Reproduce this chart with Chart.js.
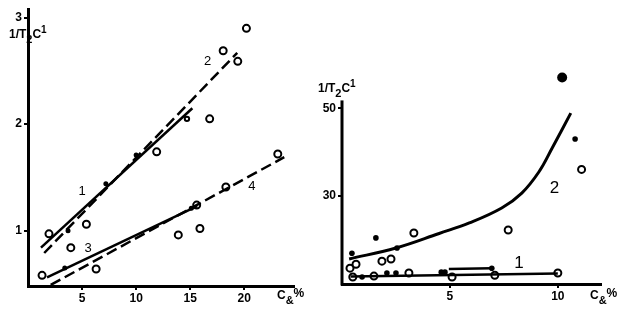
<!DOCTYPE html>
<html>
<head>
<meta charset="utf-8">
<script src="https://cdn.jsdelivr.net/npm/chart.js@4.4.1/dist/chart.umd.min.js"></script>
<style>
  html, body { margin: 0; padding: 0; background: #fff; }
  #wrap { position: relative; width: 627px; height: 319px; }
  #cL { position: absolute; left: 0; top: 0; }
  #cR { position: absolute; left: 310px; top: 0; }
</style>
</head>
<body>
<div id="wrap">
  <canvas id="cL" width="310" height="319"></canvas>
  <canvas id="cR" width="317" height="319"></canvas>
</div>
<script>
// ---- left panel data ----
const xTicksL = [5, 10, 15, 20]
const yTicksL = [1, 2, 3]
const leftOpenX = [20.2, 18.05, 19.4, 16.8, 11.9, 23.1, 18.3, 15.6, 5.4, 1.94, 3.96, 13.9, 15.9, 6.3, 1.3]
const leftOpenY = [2.90, 2.69, 2.59, 2.05, 1.74, 1.72, 1.41, 1.24, 1.06, 0.97, 0.84, 0.96, 1.02, 0.64, 0.58]
const leftSmallX = [14.7]
const leftSmallY = [2.05]
const leftDotX = [7.2, 10.0, 3.7, 15.1, 3.4]
const leftDotY = [1.44, 1.71, 1.0, 1.21, 0.65]
const line1X = [1.2, 15.2], line1Y = [0.84, 2.15]
const line2X = [1.5, 19.35], line2Y = [0.79, 2.67]
const line3X = [1.76, 15.65], line3Y = [0.56, 1.23]
const line4X = [2.1, 23.7], line4Y = [0.49, 1.69]
const leftLabels = ["1", "2", "3", "4"]
const leftLabelX = [5.0, 16.6, 5.55, 20.7]
const leftLabelY = [1.37, 2.59, 0.83, 1.42]

// ---- right panel data ----
const xTicksR = [5, 10]
const yTicksR = [30, 50]
const rightAxisTop = 51.8   // y axis line stops here, one point sits above it
const rightOpenX = [11.1, 7.7, 3.33, 1.85, 2.27, 0.37, 0.65, 0.5, 1.48, 3.1, 5.1, 7.08, 10.0]
const rightOpenY = [36.1, 22.3, 21.6, 15.2, 15.7, 13.6, 14.5, 11.6, 11.8, 12.5, 11.6, 12.0, 12.5]
const rightDotX = [10.2, 10.8, 1.57, 0.46, 2.55, 0.93, 2.08, 2.5, 4.6, 4.77, 6.94]
const rightDotY = [57, 43.0, 20.5, 17.0, 18.2, 11.6, 12.5, 12.5, 12.7, 12.7, 13.6]
const curve2X = [0.33, 2.5, 4.5, 5.9, 7.4, 8.33, 9.12, 9.72, 10.6]
const curve2Y = [15.7, 18.2, 21.5, 23.9, 27.3, 30.7, 35.5, 40.8, 48.9]
const flat1X = [0.4, 10.0], flat1Y = [11.7, 12.4]
const flat1bX = [4.95, 6.94], flat1bY = [13.4, 13.6]
const rightLabels = ["1", "2"]
const rightLabelX = [8.2, 9.85]
const rightLabelY = [14.8, 31.8]

const pts = (xs, ys) => xs.map((x, i) => ({ x: x, y: ys[i] }))
const FONT = '"Liberation Sans", Arial, sans-serif'

function lineSet(xs, ys, dashed) {
  return {
    data: pts(xs, ys), showLine: true, borderColor: '#000', borderWidth: 2.5,
    borderDash: dashed ? [11, 5] : [], pointRadius: 0, tension: 0
  }
}
function openSet(xs, ys, r) {
  return {
    data: pts(xs, ys), showLine: false, pointRadius: r, pointBackgroundColor: '#fff',
    pointBorderColor: '#000', pointBorderWidth: 2
  }
}
function dotSet(xs, ys, r) {
  return {
    data: pts(xs, ys), showLine: false, pointRadius: r, pointBackgroundColor: '#000',
    pointBorderColor: '#000', pointBorderWidth: 0
  }
}

// text with sub/superscripts
function drawRich(ctx, parts, x, y) {
  let cx = x
  parts.forEach(p => {
    ctx.font = (p.w || 'bold') + ' ' + p.s + 'px ' + FONT
    ctx.fillText(p.t, cx, y + (p.dy || 0))
    cx += ctx.measureText(p.t).width
  })
}
const yTitle = [{ t: '1/T', s: 12 }, { t: '2', s: 11, dy: 5 }, { t: 'C', s: 12 }, { t: '1', s: 10, dy: -5 }]
const xTitle = [{ t: 'C', s: 12 }, { t: '&', s: 11, dy: 5 }, { t: '%', s: 12, dy: -2 }]

function textPlugin(labels, lx, ly, size, titlePos, xtPos, yTop) {
  return {
    id: 'texts',
    beforeDatasetsDraw(chart) {
      if (yTop === undefined) return
      // y axis line drawn only up to yTop
      const ctx = chart.ctx, sy = chart.scales.y, x = chart.chartArea.left
      ctx.save()
      ctx.strokeStyle = '#000'
      ctx.lineWidth = 3
      ctx.beginPath()
      ctx.moveTo(x, sy.getPixelForValue(sy.min) + 1.5)
      ctx.lineTo(x, sy.getPixelForValue(yTop))
      ctx.stroke()
      ctx.restore()
    },
    afterDraw(chart) {
      const ctx = chart.ctx
      const sx = chart.scales.x, sy = chart.scales.y
      ctx.save()
      ctx.fillStyle = '#000'
      ctx.textAlign = 'center'
      ctx.textBaseline = 'middle'
      labels.forEach((t, i) => {
        ctx.font = size + 'px ' + FONT
        ctx.fillText(t, sx.getPixelForValue(lx[i]), sy.getPixelForValue(ly[i]))
      })
      ctx.textAlign = 'left'
      ctx.textBaseline = 'alphabetic'
      drawRich(ctx, yTitle, titlePos[0], titlePos[1])
      drawRich(ctx, xTitle, xtPos[0], xtPos[1])
      ctx.restore()
    }
  }
}

function scales(xmin, xmax, ymin, ymax, xt, yt, yw, xh, yBorder) {
  const tickFont = { family: FONT, size: 12, weight: 'bold' }
  return {
    x: {
      type: 'linear', min: xmin, max: xmax,
      afterFit: s => { s.height = xh },
      afterBuildTicks: s => { s.ticks = xt.map(v => ({ value: v })) },
      border: { color: '#000', width: 3 },
      grid: { drawOnChartArea: false, color: '#000', lineWidth: 2, tickLength: 4 },
      ticks: { color: '#000', font: tickFont, padding: 1, autoSkip: false, maxRotation: 0 }
    },
    y: {
      type: 'linear', min: ymin, max: ymax,
      afterFit: s => { s.width = yw },
      afterBuildTicks: s => { s.ticks = yt.map(v => ({ value: v })) },
      border: { display: yBorder, color: '#000', width: 3 },
      grid: { drawOnChartArea: false, color: '#000', lineWidth: 2, tickLength: 4 },
      ticks: { color: '#000', font: tickFont, padding: 2 }
    }
  }
}

const common = {
  responsive: false, animation: false,
  plugins: { legend: { display: false }, tooltip: { enabled: false } }
}

new Chart(document.getElementById('cL'), {
  type: 'scatter',
  data: {
    datasets: [
      lineSet(line1X, line1Y, false),
      lineSet(line2X, line2Y, true),
      lineSet(line3X, line3Y, false),
      lineSet(line4X, line4Y, true),
      openSet(leftOpenX, leftOpenY, 3.5),
      openSet(leftSmallX, leftSmallY, 2.2),
      dotSet(leftDotX, leftDotY, 2.5)
    ]
  },
  options: Object.assign({}, common, {
    layout: { padding: { left: 0, right: 16, top: 5, bottom: 0 } },
    scales: scales(0, 24.6, 0.48, 3.08, xTicksL, yTicksL, 28, 33, true)
  }),
  plugins: [textPlugin(leftLabels, leftLabelX, leftLabelY, 13, [9, 38], [277, 299])]
})

const curve = lineSet(curve2X, curve2Y, false)
curve.tension = 0.4
curve.borderWidth = 3

new Chart(document.getElementById('cR'), {
  type: 'scatter',
  data: {
    datasets: [
      curve,
      lineSet(flat1X, flat1Y, false),
      lineSet(flat1bX, flat1bY, false),
      openSet(rightOpenX, rightOpenY, 3.5),
      Object.assign(dotSet(rightDotX, rightDotY, 2.5), {
        pointRadius: ctx => ctx.dataIndex === 0 ? 5 : 2.8
      })
    ]
  },
  options: Object.assign({}, common, {
    layout: { padding: { left: 0, right: 26, top: 71, bottom: 0 } },
    scales: scales(0, 12, 10, 58.5, xTicksR, yTicksR, 32, 35, false)
  }),
  plugins: [textPlugin(rightLabels, rightLabelX, rightLabelY, 17, [8, 92], [280, 299], rightAxisTop)]
})
</script>
</body>
</html>
